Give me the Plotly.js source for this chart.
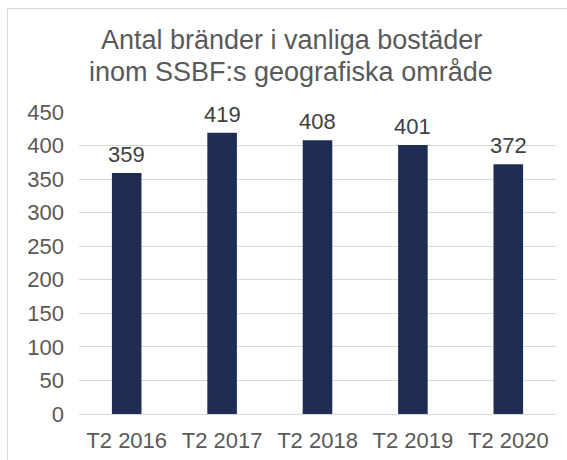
<!DOCTYPE html>
<html>
<head>
<meta charset="utf-8">
<script src="https://cdn.plot.ly/plotly-3.0.1.min.js"></script>
<style>
  html, body { margin: 0; padding: 0; background: #fff; }
  #wrap { position: relative; width: 567px; height: 460px; overflow: hidden; }
  #chart { width: 567px; height: 460px; }
  #frame { position: absolute; left: 7px; top: 8px; width: 600px; height: 500px;
           border-left: 1px solid #d9d9d9; border-top: 1px solid #d9d9d9; pointer-events: none; }
</style>
</head>
<body>
<div id="wrap">
  <div id="chart"></div>
  <div id="frame"></div>
</div>
<script>
const categories = ["T2 2016", "T2 2017", "T2 2018", "T2 2019", "T2 2020"];
const values = [359, 419, 408, 401, 372];
const yTicks = [0, 50, 100, 150, 200, 250, 300, 350, 400, 450];
const titleLines = ["Antal bränder i vanliga bostäder", "inom SSBF:s geografiska område"];

const FONT = "Liberation Sans, Arial, sans-serif";

const trace = {
  type: "bar",
  x: categories,
  y: values,
  marker: { color: "#1f2d55" },
  hoverinfo: "skip"
};

const titleY = [1.2384, 1.1325];

const titleAnn = titleLines.map((t, i) => ({
  text: t,
  xref: "paper", yref: "paper",
  x: 0.445, y: titleY[i],
  xanchor: "center", yanchor: "middle",
  showarrow: false,
  font: { family: FONT, size: 27, color: "#595959" }
}));

const labelAnn = categories.map((c, i) => ({
  text: String(values[i]),
  xref: "x", yref: "y",
  x: c, y: values[i],
  xanchor: "center", yanchor: "bottom",
  yshift: 4,
  showarrow: false,
  font: { family: FONT, size: 22, color: "#404040" }
}));

const layout = {
  width: 567,
  height: 460,
  margin: { l: 79, r: 11, t: 112, b: 46 },
  paper_bgcolor: "#ffffff",
  plot_bgcolor: "#ffffff",
  font: { family: FONT, color: "#595959" },
  annotations: titleAnn.concat(labelAnn),
  bargap: 0.69,
  showlegend: false,
  xaxis: {
    tickfont: { size: 22, color: "#595959" },
    showline: true, linecolor: "#d9d9d9", linewidth: 1,
    ticks: "", showgrid: false,
    ticklabelstandoff: 7
  },
  yaxis: {
    range: [0, 450],
    tickvals: yTicks,
    ticktext: yTicks.map(String),
    tickfont: { size: 22, color: "#595959" },
    showgrid: true, gridcolor: "#d9d9d9", gridwidth: 1,
    zeroline: false, showline: false, ticks: "",
    ticklabelstandoff: 14
  }
};

Plotly.newPlot("chart", [trace], layout, { displayModeBar: false, staticPlot: true });
</script>
</body>
</html>
